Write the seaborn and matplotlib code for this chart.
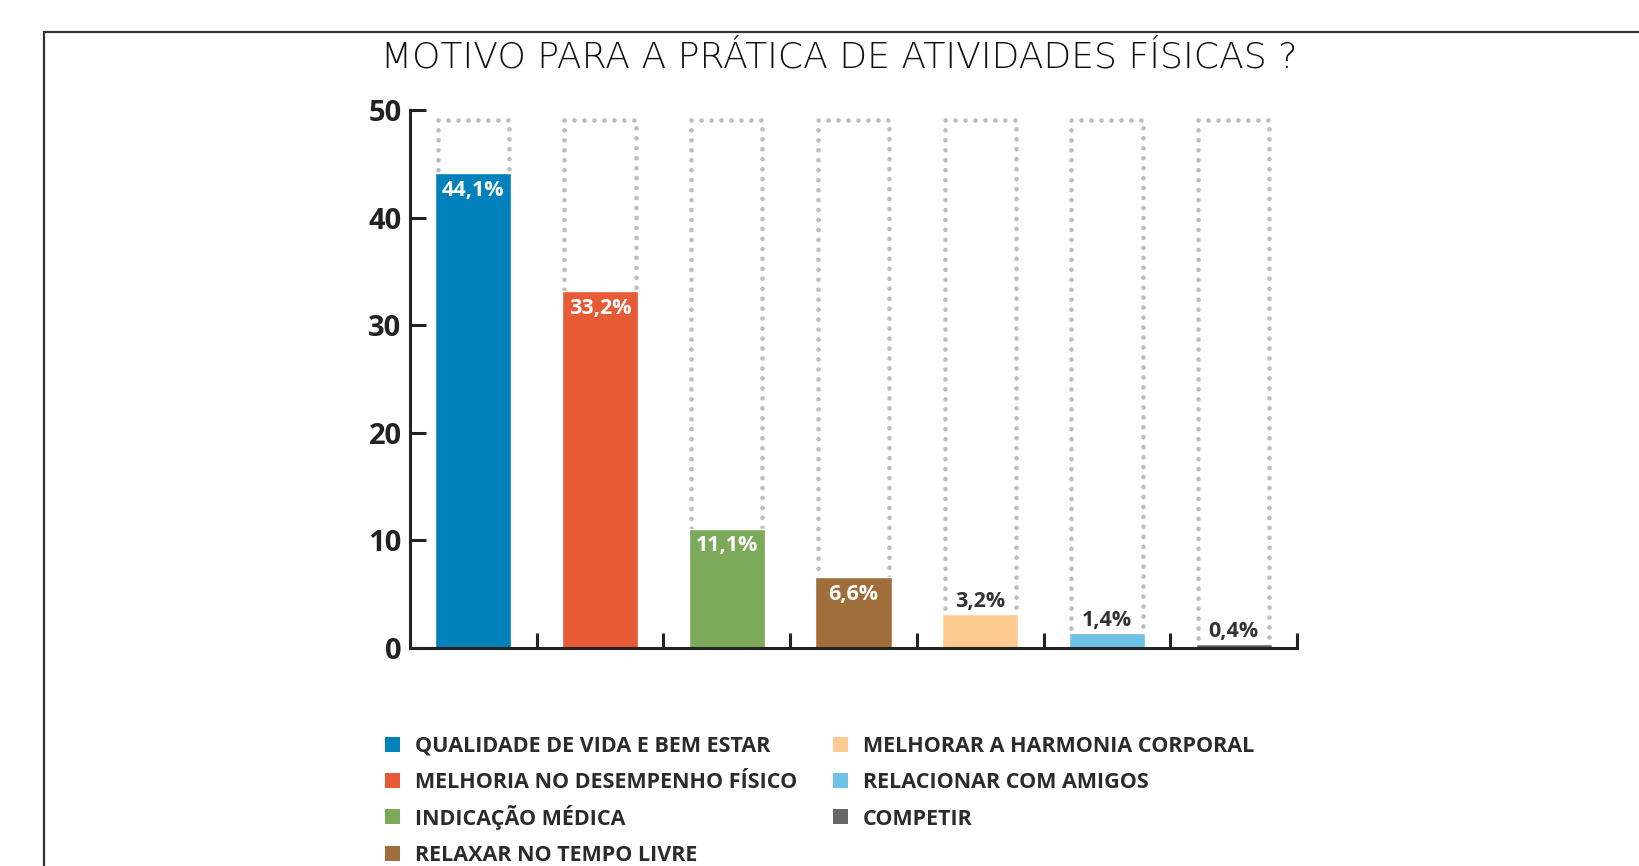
import matplotlib
matplotlib.use("Agg")
import matplotlib.pyplot as plt
import seaborn as sns
import numpy as np
from matplotlib.patches import Rectangle
from matplotlib.lines import Line2D

categories = [
    "QUALIDADE DE VIDA E BEM ESTAR",
    "MELHORIA NO DESEMPENHO FÍSICO",
    "INDICAÇÃO MÉDICA",
    "RELAXAR NO TEMPO LIVRE",
    "MELHORAR A HARMONIA CORPORAL",
    "RELACIONAR COM AMIGOS",
    "COMPETIR",
]
values = [44.1, 33.2, 11.1, 6.6, 3.2, 1.4, 0.4]
value_labels = ["44,1%", "33,2%", "11,1%", "6,6%", "3,2%", "1,4%", "0,4%"]
colors = ["#0081BB", "#E65A35", "#7CA95A", "#A06E3A", "#FDCB91", "#6EC2E5", "#666666"]
yticks = [0, 10, 20, 30, 40, 50]
title = "MOTIVO PARA A PRÁTICA DE ATIVIDADES FÍSICAS ?"
outline_height = 49.1

sns.set_theme(style="white")
plt.rcParams["font.family"] = ["Open Sans", "DejaVu Sans"]

W, H = 1639, 866
fig = plt.figure(figsize=(W / 100, H / 100), dpi=100)
ax = fig.add_axes([410 / W, (H - 648) / H, 887 / W, 538 / H])

x = np.arange(len(categories))
# dotted outline placeholders
hw = 0.563 / 2
for xi in x:
    ax.plot([xi - hw, xi - hw, xi + hw, xi + hw],
            [0, outline_height, outline_height, 0],
            color="#BEBEBE", linewidth=3.4, linestyle=(0, (0.01, 2.1)),
            dash_capstyle="round", solid_capstyle="round", zorder=0.5)

sns.barplot(x=categories, y=values, hue=categories, palette=colors,
            width=0.6, saturation=1, legend=False, ax=ax, zorder=2,
            order=categories, hue_order=categories)

for xi, v, lab in zip(x, values, value_labels):
    if v >= 5:
        ax.annotate(lab, (xi, v), xytext=(0, -12.5), textcoords="offset points",
                    ha="center", va="center", color="white",
                    fontsize=15.5, fontweight="bold", zorder=3)
    else:
        ax.annotate(lab, (xi, v), xytext=(0, 9), textcoords="offset points",
                    ha="center", va="center", color="#333333",
                    fontsize=15.5, fontweight="bold", zorder=3)

ax.set_xlim(-0.5, len(categories) - 0.5)
ax.set_ylim(0, 50)
ax.set_yticks(yticks)
ax.set_yticklabels([str(t) for t in yticks], fontsize=21, fontweight="bold", color="#222222")
ax.set_xticks(x + 0.5)
ax.set_xticklabels([])
ax.set_xlabel("")
ax.set_ylabel("")

for s in ["top", "right"]:
    ax.spines[s].set_visible(False)
for s in ["left", "bottom"]:
    ax.spines[s].set_linewidth(2.2)
    ax.spines[s].set_color("#222222")
    ax.spines[s].set_zorder(4)

ax.tick_params(axis="y", direction="in", length=11.5, width=2.2, color="#222222", pad=6, left=True)
ax.tick_params(axis="x", direction="in", length=10.5, width=2.2, color="#222222", bottom=True)

# title
fig.text(839.5 / W, 1 - 58 / H, title, ha="center", va="center",
         fontsize=26, family=["DejaVu Sans"], fontweight="light", color="#111111")

# frame lines
fig.add_artist(Line2D([44 / W, 1.0], [1 - 32 / H, 1 - 32 / H], transform=fig.transFigure,
                      color="#333333", linewidth=1.6))
fig.add_artist(Line2D([44 / W, 44 / W], [1 - 32 / H, 0], transform=fig.transFigure,
                      color="#333333", linewidth=1.6))

# legend (two columns: 4 + 3 entries), laid out in pixels
col_x = [385, 833]
row_y0, row_dy = 744.3, 36.3
sq = 15
fs = 15.5
cap_px = 0.714 * fs * 100 / 72
for i, (lab, c) in enumerate(zip(categories, colors)):
    col, row = (0, i) if i < 4 else (1, i - 4)
    cx = col_x[col]
    cy = row_y0 + row * row_dy
    fig.add_artist(Rectangle((cx / W, 1 - (cy + sq / 2) / H), sq / W, sq / H,
                             transform=fig.transFigure, facecolor=c, edgecolor="none"))
    fig.text((cx + 30) / W, 1 - (cy + cap_px / 2) / H, lab, ha="left", va="baseline",
             fontsize=fs, fontweight="bold", family=["Open Sans", "DejaVu Sans"],
             color="#2b2b2b")

fig.savefig("out.png", dpi=100, facecolor="white")
